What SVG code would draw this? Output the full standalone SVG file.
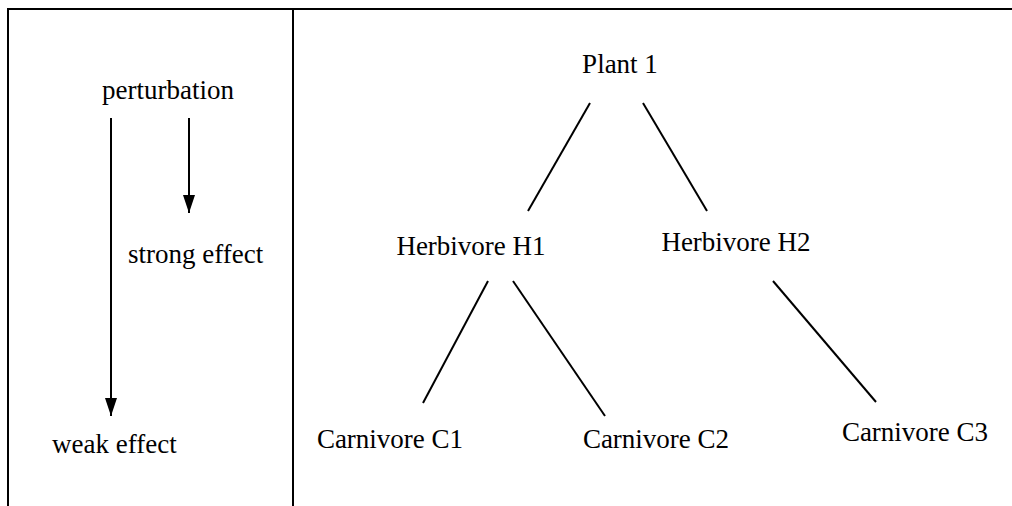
<svg xmlns="http://www.w3.org/2000/svg" width="1012" height="506" viewBox="0 0 1012 506">
<defs>
<marker id="ah" markerWidth="18" markerHeight="12" refX="18" refY="6" orient="auto" markerUnits="userSpaceOnUse" viewBox="0 0 18 12">
<path d="M0,0 L18,6 L0,12 Z" fill="#000"/>
</marker>
</defs>
<rect width="1012" height="506" fill="#fff"/>
<g id="frame" stroke="#000" stroke-width="2" fill="none">
<line x1="7" y1="9" x2="1012" y2="9"/>
<line x1="8" y1="9" x2="8" y2="506"/>
<line x1="293" y1="9" x2="293" y2="506"/>
</g>
<g id="legend" font-family="Times New Roman, Liberation Serif, DejaVu Serif, serif" font-size="27" fill="#000">
<text x="168" y="99" text-anchor="middle">perturbation</text>
<text x="128" y="263">strong effect</text>
<text x="52" y="453">weak effect</text>
</g>
<g id="connectors" stroke="#000" stroke-width="2" fill="none">
<line x1="111" y1="118" x2="111" y2="416" marker-end="url(#ah)"/>
<line x1="189" y1="118" x2="189" y2="213" marker-end="url(#ah)"/>
<line x1="590" y1="103" x2="528" y2="211"/>
<line x1="643" y1="103" x2="707" y2="211"/>
<line x1="488" y1="281" x2="423" y2="403"/>
<line x1="513" y1="281" x2="605" y2="416"/>
<line x1="773" y1="281" x2="876" y2="402"/>
</g>
<g font-family="Times New Roman, Liberation Serif, DejaVu Serif, serif" font-size="27" fill="#000" text-anchor="middle">
<g id="plant1"><text x="620" y="73">Plant 1</text></g>
<g id="h1"><text x="471" y="255">Herbivore H1</text></g>
<g id="h2"><text x="736" y="251">Herbivore H2</text></g>
<g id="c1"><text x="390" y="448">Carnivore C1</text></g>
<g id="c2"><text x="656" y="448">Carnivore C2</text></g>
<g id="c3"><text x="915" y="441">Carnivore C3</text></g>
</g>
</svg>
